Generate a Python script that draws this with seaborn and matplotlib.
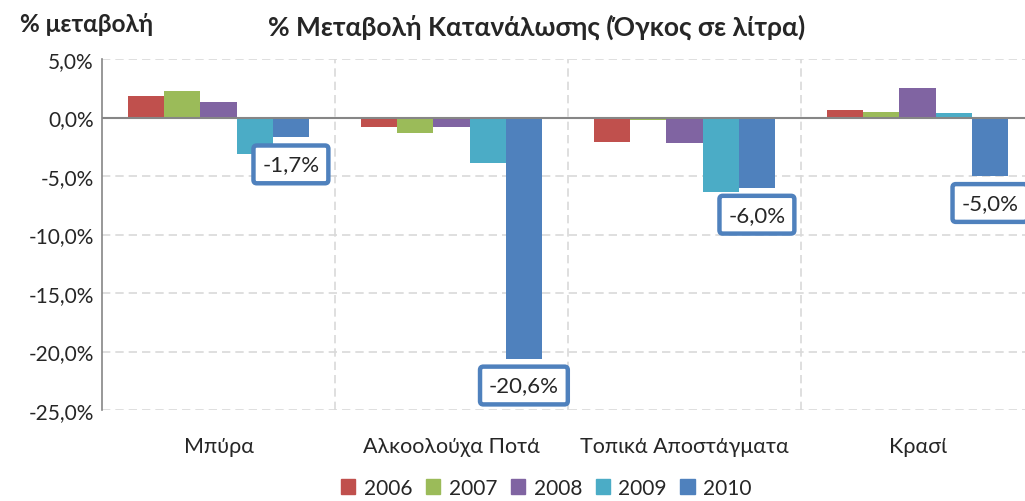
import pandas as pd
import seaborn as sns
import matplotlib.pyplot as plt
from matplotlib.ticker import FuncFormatter, FixedLocator

categories = ["Μπύρα", "Αλκοολούχα Ποτά", "Τοπικά Αποστάγματα", "Κρασί"]
years = ["2006", "2007", "2008", "2009", "2010"]
values_2006 = [1.8, -0.8, -2.1, 0.6]
values_2007 = [2.3, -1.3, -0.2, 0.5]
values_2008 = [1.3, -0.8, -2.2, 2.5]
values_2009 = [-3.1, -3.9, -6.4, 0.4]
values_2010 = [-1.7, -20.6, -6.0, -5.0]
colors = ["#C0504D", "#9BBB59", "#8064A2", "#4BACC6", "#4F81BD"]

series = [values_2006, values_2007, values_2008, values_2009, values_2010]
rows = []
for year, vals in zip(years, series):
    for cat, v in zip(categories, vals):
        rows.append({"category": cat, "year": year, "value": v})
df = pd.DataFrame(rows)

sns.set_style("white")
plt.rcParams["font.family"] = ["Lato", "DejaVu Sans"]

fig = plt.figure(figsize=(10.25, 5.02), dpi=100)
ax = fig.add_axes([102 / 1025, 1 - 411 / 502, 932 / 1025, 351 / 502])

sns.barplot(data=df, x="category", y="value", hue="year", palette=colors,
            width=0.777, saturation=1, linewidth=0, ax=ax, legend=False)

ax.set_ylim(-25, 5)
ax.set_xlim(-0.5, 3.5)
ax.yaxis.set_major_locator(FixedLocator([5, 0, -5, -10, -15, -20, -25]))
ax.yaxis.set_major_formatter(FuncFormatter(lambda v, p: f"{v:.1f}%".replace(".", ",")))
ax.xaxis.set_minor_locator(FixedLocator([0.5, 1.5, 2.5]))

ax.grid(axis="y", which="major", color="#D9D9D9", linestyle=(0, (5, 3)), linewidth=1.2)
ax.grid(axis="x", which="minor", color="#D9D9D9", linestyle=(0, (5, 3)), linewidth=1.2)
ax.set_axisbelow(True)
ax.axhline(0, color="#868686", linewidth=1.5, zorder=3)

for side in ["top", "right", "bottom"]:
    ax.spines[side].set_visible(False)
ax.spines["left"].set_color("#868686")
ax.spines["left"].set_linewidth(1.2)

ax.tick_params(axis="y", length=0, labelsize=15, pad=6)
ax.tick_params(axis="x", which="both", length=0, labelsize=15.5, pad=19)
ax.set_xlabel("")
ax.set_ylabel("")

# data labels for 2010
for bar, v in zip(ax.containers[4], values_2010):
    x = bar.get_x() + bar.get_width() / 2
    ax.annotate(f"{v:.1f}%".replace(".", ","), xy=(x, v), xytext=(0, -27),
                textcoords="offset pixels", ha="center", va="center", fontsize=16,
                bbox=dict(boxstyle="round,pad=0.4,rounding_size=0.15",
                          facecolor="white", edgecolor="#4F81BD", linewidth=3.2),
                zorder=5, annotation_clip=False)

fig.text(0.524, 1 - 27 / 502, "% Μεταβολή Κατανάλωσης (Όγκος σε λίτρα)",
         ha="center", va="center", fontsize=19, fontweight="bold")
fig.text(20 / 1025, 1 - 25 / 502, "% μεταβολή", ha="left", va="center",
         fontsize=17.5, fontweight="bold")

handles = [plt.Rectangle((0, 0), 1, 1, color=c) for c in colors]
fig.legend(handles, years, loc="center", bbox_to_anchor=(0.533, 1 - 489 / 502),
           ncol=5, frameon=False, fontsize=15, handlelength=0.7, handleheight=0.7,
           handletextpad=0.4, columnspacing=0.65)

fig.savefig("out.png", dpi=100)
